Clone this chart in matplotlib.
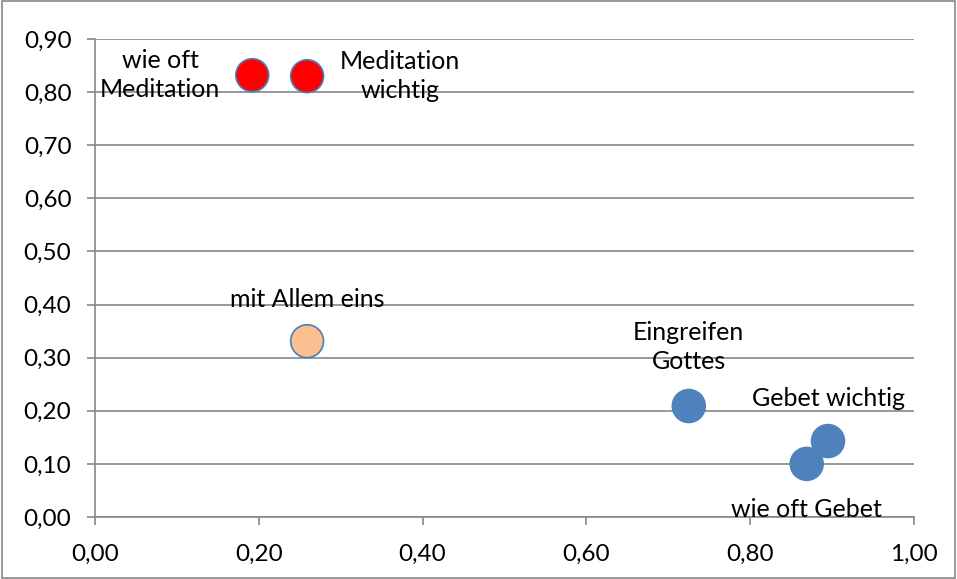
import matplotlib.pyplot as plt
from matplotlib.ticker import FuncFormatter

plt.rcParams['font.family'] = ['Lato', 'DejaVu Sans']

labels = ['wie oft\nMeditation', 'Meditation\nwichtig', 'mit Allem eins',
          'Eingreifen\nGottes', 'Gebet wichtig', 'wie oft Gebet']
x_vals = [0.192, 0.259, 0.259, 0.725, 0.895, 0.869]
y_vals = [0.832, 0.830, 0.331, 0.209, 0.143, 0.100]
colors = ['#FF0000', '#FF0000', '#FAC090', '#4F81BD', '#4F81BD', '#4F81BD']
edges = ['#4A7EBB', '#4A7EBB', '#4A7EBB', '#4F81BD', '#4F81BD', '#4F81BD']
# label offsets in pixels (dx, dy)
offsets = [(-92, 0), (93, 0), (0, 42), (0, 59), (0, 43), (0, -46)]

fig = plt.figure(figsize=(9.57, 5.79), dpi=100)
ax = fig.add_axes([95 / 957, 1 - 517 / 579, (914 - 95) / 957, (517 - 39) / 579])

ax.scatter(x_vals, y_vals, s=560, c=colors, edgecolors=edges, linewidths=1.2, zorder=3)

for i, lab in enumerate(labels):
    ax.annotate(lab, (x_vals[i], y_vals[i]), xytext=offsets[i], textcoords='offset pixels',
                ha='center', va='center', fontsize=18, linespacing=1.3, zorder=4)

ax.set_xlim(0, 1.0)
ax.set_ylim(0, 0.9)
ax.set_xticks([0, 0.2, 0.4, 0.6, 0.8, 1.0])
ax.set_yticks([i / 10 for i in range(10)])
fmt = FuncFormatter(lambda v, p: f"{v:.2f}".replace('.', ','))
ax.xaxis.set_major_formatter(fmt)
ax.yaxis.set_major_formatter(fmt)

ax.grid(axis='y', color='#878787', linewidth=1.2)
ax.set_axisbelow(True)
for s in ['top', 'right']:
    ax.spines[s].set_visible(False)
for s in ['left', 'bottom']:
    ax.spines[s].set_color('#878787')
    ax.spines[s].set_linewidth(1.2)
ax.tick_params(axis='both', colors='#878787', labelcolor='black', labelsize=17.5,
               length=6, width=1.2)
ax.tick_params(axis='y', pad=11)
ax.tick_params(axis='x', pad=13)

fig.patches.append(plt.Rectangle((0.002, 0.002), 0.996, 0.996, transform=fig.transFigure,
                                 fill=False, edgecolor='#878787', linewidth=1.2))

fig.savefig('out.png', dpi=100)
